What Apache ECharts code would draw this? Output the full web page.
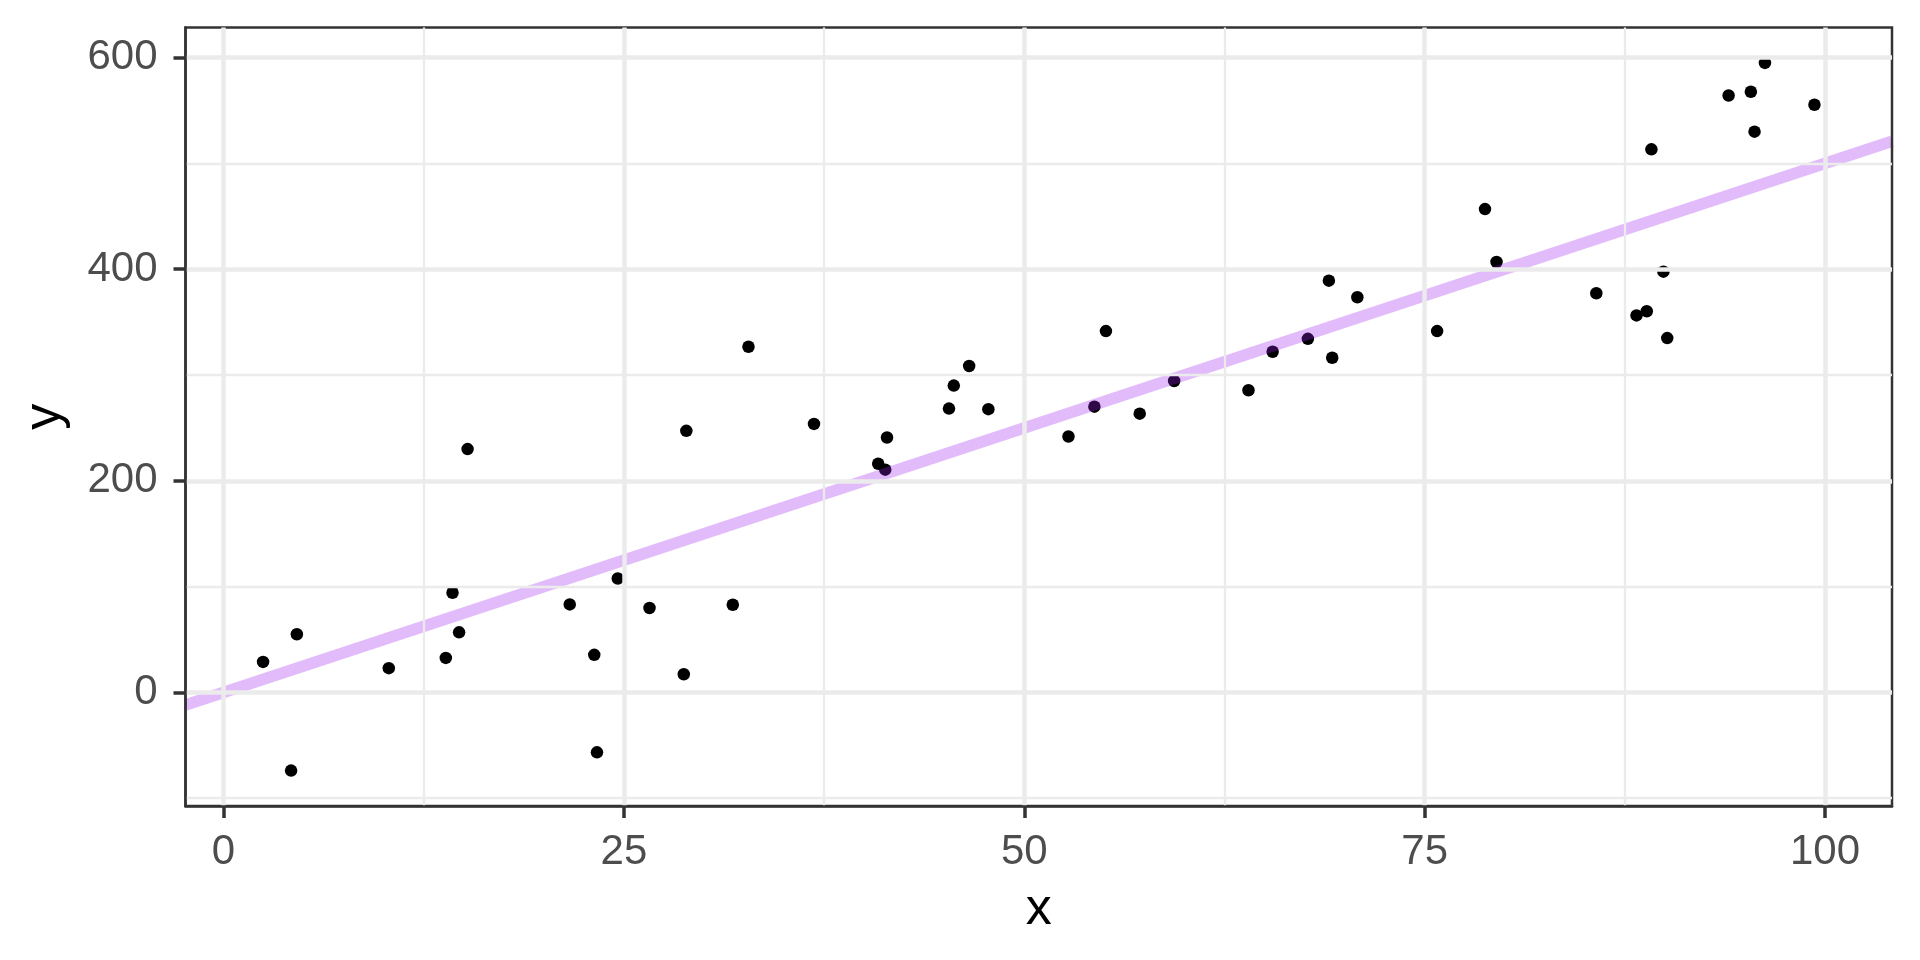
<!DOCTYPE html>
<html>
<head>
<meta charset="utf-8">
<style>html,body{margin:0;padding:0;background:#fff}#c{width:1920px;height:960px}</style>
<script src="https://cdn.jsdelivr.net/npm/echarts@6/dist/echarts.min.js"></script>
</head>
<body>
<div id="c"></div>
<script>
// data
const xs = [2.47, 4.22, 4.58, 10.32, 13.88, 14.3, 14.71, 15.24, 21.62, 23.15, 23.32, 24.62, 26.6, 28.74, 28.9, 31.8, 32.78, 36.87, 40.88, 41.32, 41.43, 45.3, 45.6, 46.56, 47.76, 52.76, 54.38, 55.1, 57.21, 59.36, 64.0, 65.51, 67.71, 69.02, 69.23, 70.8, 75.78, 78.77, 79.49, 85.72, 88.23, 88.87, 89.16, 89.91, 90.15, 93.98, 95.37, 95.6, 96.25, 99.34];
const ys = [28.8, -73.9, 55, 22.9, 32.6, 94.2, 56.8, 230, 83.2, 35.5, -56.6, 107.7, 79.8, 17.2, 247.2, 82.9, 326.7, 253.8, 216.1, 210.5, 240.9, 268.3, 290, 308.5, 267.7, 241.9, 270.1, 341.5, 263.5, 294.3, 285.6, 322, 334.2, 389.2, 316.3, 373.5, 341.5, 456.8, 406.8, 377.3, 356.3, 360.3, 513.3, 397.7, 334.9, 564.2, 567.7, 530, 595, 555.4];
const lineIntercept = 0;
const lineSlope = 5;
const xBreaks = [0, 25, 50, 75, 100];
const xMinor = [12.5, 37.5, 62.5, 87.5];
const yBreaks = [0, 200, 400, 600];
const yMinor = [-100, 100, 300, 500];

// ggplot-style expanded limits (5%)
function expand(arr){const mn=Math.min(...arr),mx=Math.max(...arr),r=mx-mn;return [mn-0.05*r,mx+0.05*r];}
const xLim = expand(xs), yLim = expand(ys);

const points = xs.map((x,i)=>[x, ys[i]]);
const lineData = [[xLim[0], lineIntercept+lineSlope*xLim[0]], [xLim[1], lineIntercept+lineSlope*xLim[1]]];

const FONT = "'Liberation Sans', Arial, sans-serif";
const gridMarks = [];
xBreaks.forEach(v=>gridMarks.push({xAxis:v, lineStyle:{width:4.5}}));
xMinor.forEach(v=>gridMarks.push({xAxis:v, lineStyle:{width:2.3}}));
yBreaks.forEach(v=>gridMarks.push({yAxis:v, lineStyle:{width:4.5}}));
yMinor.forEach(v=>gridMarks.push({yAxis:v, lineStyle:{width:2.3}}));

const chart = echarts.init(document.getElementById('c'), null, {renderer:'canvas'});
chart.setOption({
  animation:false,
  backgroundColor:'#ffffff',
  grid:{left:185.5, top:27.5, right:28, bottom:154, show:true, borderColor:'#333333', borderWidth:2.5, backgroundColor:'transparent', z:5, containLabel:false, outerBoundsMode:'none'},
  xAxis:{
    type:'value', min:xLim[0], max:xLim[1], z:6,
    name:'x', nameLocation:'middle', nameGap:78,
    nameTextStyle:{fontFamily:FONT, fontSize:52, color:'#000000', verticalAlign:'top'},
    axisLine:{show:true, onZero:false, lineStyle:{color:'#333333', width:2.5}},
    splitLine:{show:false},
    axisTick:{show:true, inside:false, length:12, lineStyle:{color:'#333333', width:3.5, opacity:1}, customValues:xBreaks},
    axisLabel:{fontFamily:FONT, fontSize:42, color:'#4D4D4D', margin:25, customValues:xBreaks}
  },
  yAxis:{
    type:'value', min:yLim[0], max:yLim[1], z:6,
    name:'y', nameLocation:'middle', nameGap:115,
    nameTextStyle:{fontFamily:FONT, fontSize:52, color:'#000000'},
    axisLine:{show:true, onZero:false, lineStyle:{color:'#333333', width:2.5}},
    splitLine:{show:false},
    axisTick:{show:true, inside:false, length:12, lineStyle:{color:'#333333', width:3.5, opacity:1}, customValues:yBreaks},
    axisLabel:{fontFamily:FONT, fontSize:42, color:'#4D4D4D', margin:28, customValues:yBreaks}
  },
  series:[
    {type:'line', data:[], z:1, silent:true, symbol:'none',
     markLine:{silent:true, symbol:['none','none'], label:{show:false}, animation:false,
       lineStyle:{color:'#EBEBEB', type:'solid'}, data:gridMarks}},
    {type:'scatter', data:points, symbol:'circle', symbolSize:12.5, z:3,
     itemStyle:{color:'#000000', opacity:1}},
    {type:'line', data:lineData, z:4, symbol:'none', silent:true, clip:true,
     lineStyle:{color:'rgba(160,32,240,0.3)', width:11.5, cap:'butt'}}
  ]
});
</script>
</body>
</html>
